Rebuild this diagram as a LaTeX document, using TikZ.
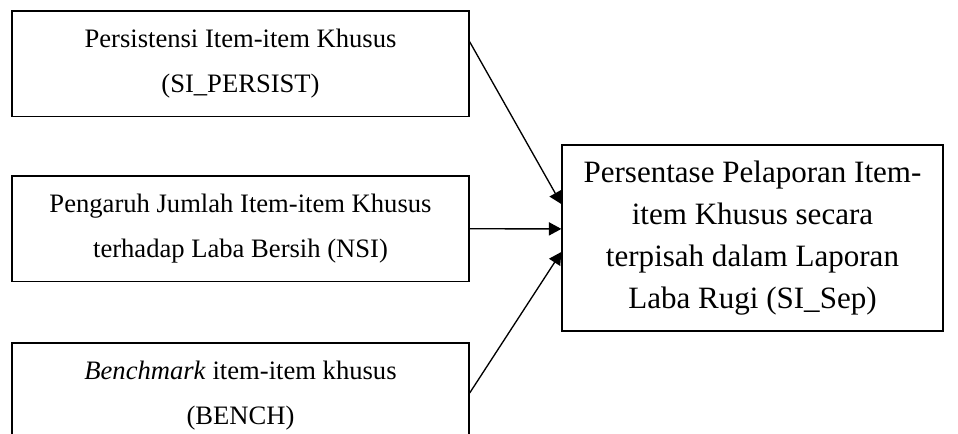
\documentclass[tikz,border=0pt]{standalone}
\usepackage{fontspec}
\setmainfont{Liberation Serif}
\usepackage{tikz}
\usetikzlibrary{positioning, arrows.meta}

\begin{document}
\begin{tikzpicture}[x=0.451pt, y=-0.451pt,
  varbox/.style={rectangle, draw, line width=0.6pt, inner sep=0pt, align=center},
  srcbox/.style={varbox, minimum width=206.1pt, minimum height=47.6pt, font=\fontsize{12}{20.5}\selectfont},
  link/.style={-{Triangle[length=5.6pt, width=5.9pt]}, line width=0.6pt}]

\clip (0,0) rectangle (958,434);

% Independent variables
\node[srcbox] (persist) at (240.5,63.7) {Persistensi Item-item Khusus\\(SI\_PERSIST)};
\node[srcbox] (nsi) at (240.5,228.8) {Pengaruh Jumlah Item-item Khusus\\terhadap Laba Bersih (NSI)};
\node[srcbox] (bench) at (240.5,395.7) {\textit{Benchmark} item-item khusus\\(BENCH)};

% Dependent variable
\node[varbox, minimum width=171.8pt, minimum height=83.9pt, font=\fontsize{14}{19}\selectfont] (sisep) at (752.5,238) {Persentase Pelaporan Item-\\item Khusus secara\\terpisah dalam Laporan\\Laba Rugi (SI\_Sep)};

% Arrows
\draw[link] ([yshift=9.9pt]persist.east) -- ([yshift=15.3pt]sisep.west);
\draw[link] (nsi.east) -- ([yshift=4.1pt]sisep.west);
\draw[link] ([yshift=1.2pt]bench.east) -- ([yshift=-6.3pt]sisep.west);

\end{tikzpicture}
\end{document}
